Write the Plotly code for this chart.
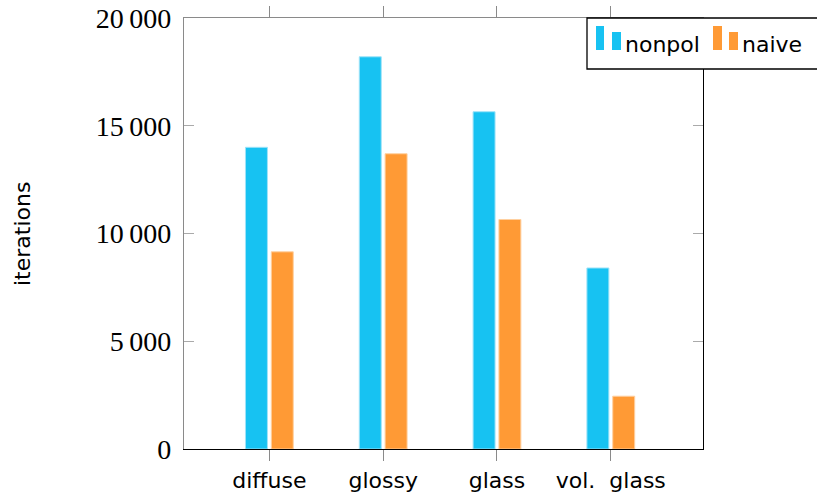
import plotly.graph_objects as go

categories = ["diffuse", "glossy", "glass", "vol.\u00a0 glass"]
nonpol = [14000, 18200, 15650, 8400]
naive = [9150, 13700, 10650, 2450]
ytick_vals = [0, 5000, 10000, 15000, 20000]
ytick_text = ["0", "5\u2009000", "10\u2009000", "15\u2009000", "20\u2009000"]

BLUE = "#17C2F2"
ORANGE = "#FF9A35"
GRAY = "#8a8a8a"
SANS = "DejaVu Sans"
SERIF = "Liberation Serif"

W, H = 817, 495
L, R, T, B = 184, 114, 18, 46
PW, PH = W - L - R, H - T - B

def px2x(px):
    return (px - L) / PW

def px2y(py):
    return (H - B - py) / PH

xpos = list(range(len(categories)))

fig = go.Figure()
fig.add_trace(go.Bar(x=xpos, y=nonpol, name="nonpol", width=0.193, offset=-0.21,
                     marker=dict(color=BLUE, line=dict(color="#9fe3f8", width=1)),
                     showlegend=False))
fig.add_trace(go.Bar(x=xpos, y=naive, name="naive", width=0.193, offset=0.017,
                     marker=dict(color=ORANGE, line=dict(color="#ffd0a0", width=1)),
                     showlegend=False))
fig.add_trace(go.Scatter(x=[None], y=[None], xaxis="x2", yaxis="y2",
                         showlegend=False, hoverinfo="skip"))

fig.update_layout(
    width=W, height=H,
    margin=dict(l=L, r=R, t=T, b=B, autoexpand=False),
    paper_bgcolor="white", plot_bgcolor="white",
    barmode="overlay",
    xaxis=dict(range=[-0.75, 3.81], tickvals=xpos, ticktext=categories,
               ticks="outside", ticklen=11, tickcolor=GRAY, tickwidth=1.3,
               showline=True, linecolor="black", linewidth=1.3,
               showgrid=False, zeroline=False, automargin=False,
               tickfont=dict(family=SANS, size=22, color="black")),
    xaxis2=dict(overlaying="x", side="top", matches="x", range=[-0.75, 3.81],
                tickvals=xpos, showticklabels=False,
                ticks="outside", ticklen=11, tickcolor=GRAY, tickwidth=1.3,
                showline=True, linecolor=GRAY, linewidth=1.3,
                showgrid=False, zeroline=False, automargin=False),
    yaxis=dict(range=[0, 20000], tickvals=ytick_vals, ticktext=ytick_text,
               ticks="inside", ticklen=10, tickcolor="#aaaaaa", tickwidth=1.3,
               showline=True, linecolor=GRAY, linewidth=1.3,
               showgrid=False, zeroline=False, ticklabelstandoff=6, automargin=False,
               tickfont=dict(family=SERIF, size=28, color="black")),
    yaxis2=dict(overlaying="y", side="right", matches="y", range=[0, 20000],
                tickvals=ytick_vals, showticklabels=False,
                ticks="inside", ticklen=10, tickcolor="#aaaaaa", tickwidth=1.3,
                showline=True, linecolor="black", linewidth=1.3,
                showgrid=False, zeroline=False, automargin=False),
    annotations=[
        dict(text="iterations", x=px2x(22), y=px2y(234), xref="paper", yref="paper",
             textangle=-90, showarrow=False, xanchor="center", yanchor="middle",
             font=dict(family=SANS, size=22, color="black")),
        dict(text="nonpol", x=px2x(623), y=px2y(44), xref="paper", yref="paper",
             showarrow=False, xanchor="left", yanchor="middle",
             font=dict(family=SANS, size=22, color="black")),
        dict(text="naive", x=px2x(740), y=px2y(44), xref="paper", yref="paper",
             showarrow=False, xanchor="left", yanchor="middle",
             font=dict(family=SANS, size=22, color="black")),
    ],
    shapes=[
        dict(type="rect", xref="paper", yref="paper",
             x0=px2x(587), x1=px2x(830), y0=px2y(69), y1=px2y(18),
             line=dict(color="black", width=1.3), fillcolor="white", layer="above"),
        dict(type="rect", xref="paper", yref="paper",
             x0=px2x(596), x1=px2x(604), y0=px2y(50), y1=px2y(26),
             line=dict(width=0), fillcolor=BLUE, layer="above"),
        dict(type="rect", xref="paper", yref="paper",
             x0=px2x(612), x1=px2x(621), y0=px2y(50), y1=px2y(32),
             line=dict(width=0), fillcolor=BLUE, layer="above"),
        dict(type="rect", xref="paper", yref="paper",
             x0=px2x(713), x1=px2x(722), y0=px2y(50), y1=px2y(26),
             line=dict(width=0), fillcolor=ORANGE, layer="above"),
        dict(type="rect", xref="paper", yref="paper",
             x0=px2x(729), x1=px2x(738), y0=px2y(50), y1=px2y(32),
             line=dict(width=0), fillcolor=ORANGE, layer="above"),
    ],
)

fig.write_html("out.html", config={"displayModeBar": False},
               post_script="document.body.style.margin='0';")
